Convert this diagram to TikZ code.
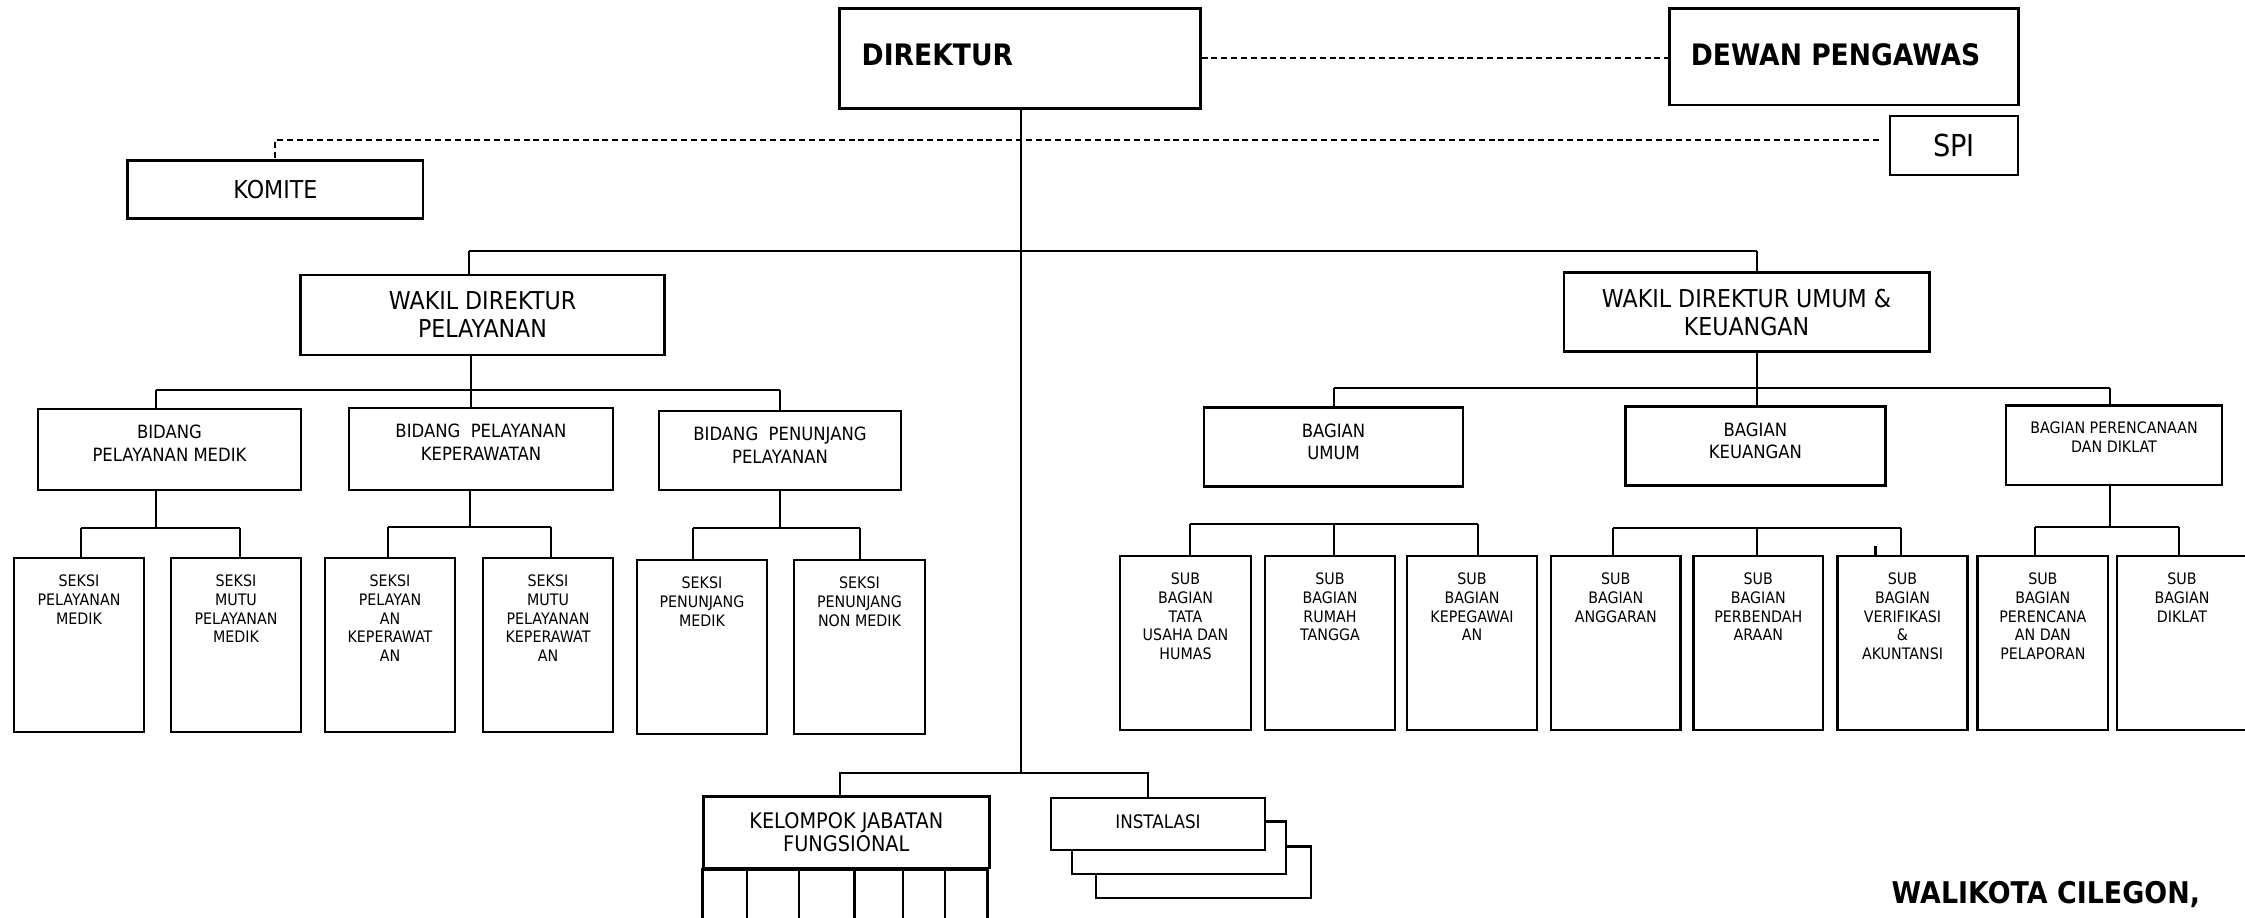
\documentclass[tikz,border=0pt]{standalone}
\usepackage{fontspec}
\setmainfont{DejaVu Sans}[FakeStretch=0.9]
\newcommand{\besar}{\fontsize{8.4}{10}\selectfont\bfseries}
\newcommand{\hurufttd}{\fontsize{8.5}{10}\selectfont\bfseries}
\newcommand{\wakil}{\fontsize{7}{8}\selectfont}
\newcommand{\hurufspi}{\fontsize{8.6}{10}\selectfont}
\newcommand{\sedang}{\fontsize{5.2}{6.3}\selectfont}
\newcommand{\kecil}{\fontsize{4.5}{5.4}\selectfont}
\newcommand{\hurufkjf}{\fontsize{6.1}{6.3}\selectfont}
\newcommand{\hurufinst}{\fontsize{5.3}{6.3}\selectfont}

\begin{document}
\begin{tikzpicture}[x=0.01cm,y=-0.01cm,
  kotak/.style 2 args={draw,line width=0.8pt,fill=white,inner sep=0pt,minimum width=#1cm,minimum height=#2cm},
  isi/.style={anchor=north,inner sep=0pt,yshift=-0.17cm,align=center},
  garis/.style={line width=0.6pt},
  putus/.style={line width=0.6pt,dash pattern=on 1.7pt off 1.1pt}]
\useasboundingbox (0,0) rectangle (2245,917);

% pimpinan
\node[kotak={3.605}{1.00},label={[anchor=west,inner sep=0pt,xshift=0.23cm,yshift=0.03cm,font=\besar]west:DIREKTUR}] (dir) at (1019.75,58.3) {};
\node[kotak={3.484}{0.967},label={[anchor=west,inner sep=0pt,xshift=0.22cm,yshift=0.02cm,font=\besar]west:DEWAN PENGAWAS}] (dewan) at (1843.8,56.7) {};
\node[kotak={1.28}{0.59},font=\hurufspi] (spi) at (1954,145.5) {SPI};
\node[kotak={2.952}{0.576},font=\wakil] (komite) at (275.4,189.5) {KOMITE};

% wakil direktur
\node[kotak={3.63}{0.80},label={[isi,font=\wakil]north:WAKIL DIREKTUR\\PELAYANAN}] (wp) at (482.5,315) {};
\node[kotak={3.65}{0.79},label={[isi,font=\wakil]north:WAKIL DIREKTUR UMUM \&\\KEUANGAN}] (wu) at (1746.5,312.2) {};

% bidang
\node[kotak={2.63}{0.81},label={[isi,font=\sedang]north:BIDANG\\PELAYANAN MEDIK}] (bpm) at (169.5,449.5) {};
\node[kotak={2.64}{0.82},label={[isi,font=\sedang]north:BIDANG\ \ PELAYANAN\\KEPERAWATAN}] (bpk) at (481,449) {};
\node[kotak={2.42}{0.79},label={[isi,font=\sedang]north:BIDANG\ \ PENUNJANG\\PELAYANAN}] (bpp) at (780,450.5) {};

% bagian
\node[kotak={2.59}{0.79},label={[isi,font=\sedang]north:BAGIAN\\UMUM}] (bu) at (1333.5,447.2) {};
\node[kotak={2.593}{0.79},label={[isi,font=\sedang]north:BAGIAN\\KEUANGAN}] (bk) at (1755.4,446.2) {};
\node[kotak={2.16}{0.793},label={[isi,font=\kecil]north:BAGIAN PERENCANAAN\\DAN DIKLAT}] (bpd) at (2114,445.4) {};

% seksi
\node[kotak={1.30}{1.74},label={[isi,font=\kecil]north:SEKSI\\PELAYANAN\\MEDIK}] (s1) at (79,645) {};
\node[kotak={1.30}{1.74},label={[isi,font=\kecil]north:SEKSI\\MUTU\\PELAYANAN\\MEDIK}] (s2) at (236,645) {};
\node[kotak={1.30}{1.74},label={[isi,font=\kecil]north:SEKSI\\PELAYAN\\AN\\KEPERAWAT\\AN}] (s3) at (390,645) {};
\node[kotak={1.30}{1.74},label={[isi,font=\kecil]north:SEKSI\\MUTU\\PELAYANAN\\KEPERAWAT\\AN}] (s4) at (548,645) {};
\node[kotak={1.30}{1.74},label={[isi,font=\kecil]north:SEKSI\\PENUNJANG\\MEDIK}] (s5) at (702,647) {};
\node[kotak={1.31}{1.74},label={[isi,font=\kecil]north:SEKSI\\PENUNJANG\\NON MEDIK}] (s6) at (859.5,647) {};

% sub bagian
\node[kotak={1.31}{1.74},label={[isi,font=\kecil]north:SUB\\BAGIAN\\TATA\\USAHA DAN\\HUMAS}] (sb1) at (1185.5,643) {};
\node[kotak={1.30}{1.74},label={[isi,font=\kecil]north:SUB\\BAGIAN\\RUMAH\\TANGGA}] (sb2) at (1330,643) {};
\node[kotak={1.30}{1.74},label={[isi,font=\kecil]north:SUB\\BAGIAN\\KEPEGAWAI\\AN}] (sb3) at (1472,643) {};
\node[kotak={1.295}{1.74},label={[isi,font=\kecil]north:SUB\\BAGIAN\\ANGGARAN}] (sb4) at (1615.75,643) {};
\node[kotak={1.294}{1.74},label={[isi,font=\kecil]north:SUB\\BAGIAN\\PERBENDAH\\ARAAN}] (sb5) at (1758.3,643) {};
\node[kotak={1.30}{1.74},label={[isi,font=\kecil]north:SUB\\BAGIAN\\VERIFIKASI\\\&\\AKUNTANSI}] (sb6) at (1902.5,643) {};
\node[kotak={1.303}{1.74},label={[isi,font=\kecil]north:SUB\\BAGIAN\\PERENCANA\\AN DAN\\PELAPORAN}] (sb7) at (2042.85,643) {};
\node[kotak={1.30}{1.74},label={[isi,font=\kecil]north:SUB\\BAGIAN\\DIKLAT}] (sb8) at (2182,643) {};

% fungsional dan instalasi
\node[kotak={2.854}{0.713},label={[isi,font=\hurufkjf]north:KELOMPOK JABATAN\\FUNGSIONAL}] (kjf) at (846.3,832.35) {};
\draw[line width=0.8pt] (kjf.south west) rectangle ++(285.4,70);
\foreach \x in {747,798.7,854.5,902.7,945}
  \draw[garis] (\x,868) -- ++(0,70);
\node[kotak={2.15}{0.513}] (inst3) at (1203.5,872.35) {};
\node[kotak={2.14}{0.523}] (inst2) at (1179,847.85) {};
\node[kotak={2.14}{0.52},label={[isi,font=\hurufinst]north:INSTALASI}] (inst) at (1158,824) {};

\node[anchor=base west,inner sep=0pt,font=\hurufttd] (ttd) at (1891,903) {WALIKOTA CILEGON,};

% garis hubungan
\draw[putus] (dir.east) -- (dir.east -| dewan.west);
\draw[putus,shorten <=0.1cm] ([yshift=0.055cm]spi.west) -| (komite.north);
\coordinate (bawah) at (1021,773);
\draw[garis] (bawah |- dir.south) -- (bawah);
\coordinate (kiri1) at (469,251);
\coordinate (kanan1) at (1757,251);
\draw[garis] (kiri1) -- (kanan1);
\foreach \a/\b in {kiri1/wp,kanan1/wu}
  \draw[garis] (\a) -- (\a |- \b.north);
\coordinate (kjfA) at (840,773);
\coordinate (instA) at (1148,773);
\draw[garis] (kjfA |- kjf.north) |- (instA) -- (instA |- inst.north);

% pelayanan
\coordinate (wpB) at (471,390);
\coordinate (bpmA) at (156,390);
\coordinate (bppA) at (780,390);
\draw[garis] (wpB |- wp.south) -- (wpB);
\draw[garis] (bpmA) -- (bppA);
\foreach \a/\b in {bpmA/bpm,wpB/bpk,bppA/bpp}
  \draw[garis] (\a) -- (\a |- \b.north);

\coordinate (bpmB) at (156,528);
\coordinate (s1A) at (81,528);
\coordinate (s2A) at (240,528);
\draw[garis] (bpmB |- bpm.south) -- (bpmB);
\draw[garis] (s1A) -- (s2A);
\coordinate (bpkB) at (470,527);
\coordinate (s3A) at (388,527);
\coordinate (s4A) at (551,527);
\draw[garis] (bpkB |- bpk.south) -- (bpkB);
\draw[garis] (s3A) -- (s4A);
\coordinate (bppB) at (780,528);
\coordinate (s5A) at (693,528);
\coordinate (s6A) at (860,528);
\draw[garis] (bppB |- bpp.south) -- (bppB);
\draw[garis] (s5A) -- (s6A);
\foreach \a/\b in {s1A/s1,s2A/s2,s3A/s3,s4A/s4,s5A/s5,s6A/s6}
  \draw[garis] (\a) -- (\a |- \b.north);

% umum dan keuangan
\coordinate (wuB) at (1757,388);
\coordinate (buA) at (1334,388);
\coordinate (bpdA) at (2110,388);
\draw[garis] (wuB |- wu.south) -- (wuB);
\draw[garis] (buA) -- (bpdA);
\foreach \a/\b in {buA/bu,wuB/bk,bpdA/bpd}
  \draw[garis] (\a) -- (\a |- \b.north);

\coordinate (sb1A) at (1190,524);
\coordinate (sb2A) at (1334,524);
\coordinate (sb3A) at (1478,524);
\draw[garis] (sb1A) -- (sb3A);
\coordinate (sb4A) at (1613,528);
\coordinate (sb5A) at (1757,528);
\coordinate (sb6A) at (1901,528);
\draw[garis] (sb4A) -- (sb6A);
\coordinate (tik) at (1875.5,546);
\draw[garis] (tik) -- (tik |- sb6.north);
\coordinate (bpdB) at (2110,527);
\coordinate (sb7A) at (2035,527);
\coordinate (sb8A) at (2179,527);
\draw[garis] (bpdB |- bpd.south) -- (bpdB);
\draw[garis] (sb7A) -- (sb8A);
\foreach \a/\b in {sb1A/sb1,sb2A/sb2,sb3A/sb3,sb4A/sb4,sb5A/sb5,sb6A/sb6,sb7A/sb7,sb8A/sb8}
  \draw[garis] (\a) -- (\a |- \b.north);
\end{tikzpicture}
\end{document}
